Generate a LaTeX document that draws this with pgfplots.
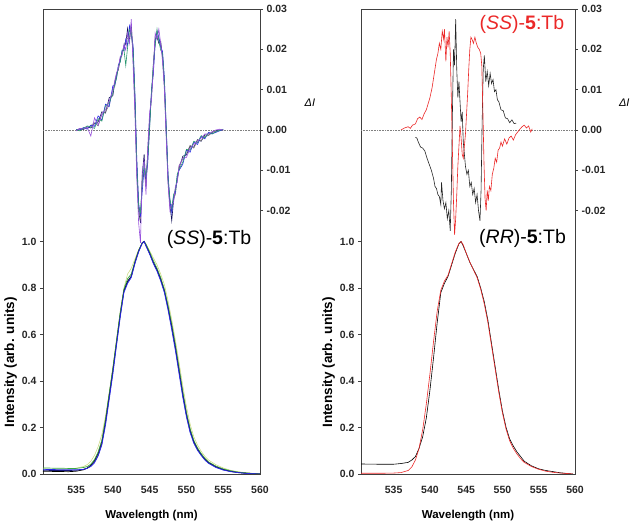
\documentclass[border=0pt]{standalone}
\usepackage{pgfplots}
\pgfplotsset{compat=1.18}
\usepackage{pgfplotstable}
\usepackage{fontspec}
\setmainfont{Liberation Sans}

\definecolor{cblue}{RGB}{40,40,230}
\definecolor{cviolet}{RGB}{150,80,220}
\definecolor{cteal}{RGB}{40,150,110}
\definecolor{cgreen}{RGB}{60,170,70}
\definecolor{cnavy}{RGB}{20,20,110}
\definecolor{cyg}{RGB}{200,215,120}
\definecolor{cred}{RGB}{235,40,40}

% CPL, left panel: x, black, blue, violet, teal, gray
\pgfplotstableread{
x a b c d e
535.0 0.0000 0.0001 -0.0002 0.0001 0.0000
535.5 0.0003 0.0000 0.0004 -0.0002 0.0002
536.0 0.0001 0.0006 0.0002 0.0004 0.0005
536.5 0.0008 0.0002 0.0007 0.0010 0.0003
537.0 0.0005 0.0012 -0.0015 0.0008 0.0011
537.5 0.0016 0.0009 0.0030 0.0004 0.0018
538.0 0.0020 0.0035 0.0012 0.0028 0.0010
538.5 0.0045 0.0025 0.0040 0.0022 0.0038
539.0 0.0042 0.0064 0.0050 0.0060 0.0045
539.5 0.0080 0.0058 0.0072 0.0066 0.0062
540.0 0.0085 0.0110 0.0098 0.0092 0.0104
540.25 0.0118 0.0110 0.0122 0.0115 0.0108
540.5 0.0138 0.0130 0.0142 0.0128 0.0140
540.75 0.0150 0.0162 0.0155 0.0158 0.0150
541.0 0.0178 0.0170 0.0182 0.0168 0.0176
541.25 0.0190 0.0198 0.0185 0.0195 0.0188
541.5 0.0205 0.0196 0.0212 0.0200 0.0210
541.75 0.0215 0.0225 0.0198 0.0160 0.0220
542.0 0.0252 0.0210 0.0240 0.0205 0.0228
542.25 0.0220 0.0258 0.0215 0.0248 0.0230
542.5 0.0262 0.0235 0.0275 0.0240 0.0250
542.75 0.0180 0.0210 0.0160 0.0200 0.0195
543.0 0.0060 0.0090 0.0040 0.0080 0.0070
543.25 -0.0100 -0.0070 -0.0120 -0.0085 -0.0090
543.5 -0.0200 -0.0180 -0.0230 -0.0190 -0.0195
543.75 -0.0230 -0.0215 -0.0280 -0.0205 -0.0220
544.0 -0.0110 -0.0150 -0.0100 -0.0130 -0.0120
544.25 -0.0060 -0.0095 -0.0075 -0.0085 -0.0105
544.5 -0.0140 -0.0120 -0.0160 -0.0115 -0.0135
544.75 -0.0050 -0.0080 -0.0040 -0.0070 -0.0060
545.0 0.0030 0.0010 0.0045 0.0005 0.0020
545.25 0.0085 0.0100 0.0075 0.0095 0.0090
545.5 0.0160 0.0140 0.0150 0.0165 0.0145
545.75 0.0225 0.0215 0.0240 0.0210 0.0230
546.0 0.0230 0.0245 0.0225 0.0250 0.0232
546.25 0.0215 0.0230 0.0250 0.0220 0.0228
546.5 0.0220 0.0205 0.0215 0.0198 0.0210
546.75 0.0180 0.0195 0.0170 0.0190 0.0185
547.0 0.0110 0.0130 0.0100 0.0120 0.0115
547.25 -0.0010 0.0010 -0.0020 0.0005 0.0000
547.5 -0.0125 -0.0110 -0.0135 -0.0118 -0.0120
547.75 -0.0185 -0.0175 -0.0200 -0.0170 -0.0190
548.0 -0.0225 -0.0205 -0.0185 -0.0195 -0.0195
548.25 -0.0175 -0.0165 -0.0180 -0.0160 -0.0170
548.5 -0.0145 -0.0155 -0.0140 -0.0150 -0.0160
548.75 -0.0125 -0.0115 -0.0130 -0.0110 -0.0120
549.0 -0.0095 -0.0100 -0.0090 -0.0098 -0.0088
549.5 -0.0065 -0.0085 -0.0070 -0.0080 -0.0072
550.0 -0.0062 -0.0050 -0.0068 -0.0048 -0.0058
550.5 -0.0040 -0.0055 -0.0045 -0.0050 -0.0038
551.0 -0.0043 -0.0030 -0.0036 -0.0028 -0.0045
551.5 -0.0024 -0.0036 -0.0028 -0.0032 -0.0026
552.0 -0.0028 -0.0016 -0.0020 -0.0014 -0.0026
552.5 -0.0012 -0.0022 -0.0010 -0.0019 -0.0015
553.0 -0.0013 -0.0006 -0.0010 -0.0008 -0.0014
553.5 -0.0006 -0.0009 -0.0004 -0.0010 -0.0005
554.0 -0.0002 -0.0006 0.0000 -0.0004 -0.0003
554.5 0.0000 -0.0002 0.0002 -0.0001 -0.0002
555.0 0.0000 0.0001 0.0000 0.0002 -0.0001
}\cplleft

% emission, left panel: x, black, blue, green, navy, light yellow-green
\pgfplotstableread{
x a b c d e
530.5 0.012 0.020 0.026 0.016 0.022
532 0.011 0.019 0.025 0.015 0.020
534 0.010 0.018 0.024 0.015 0.022
535 0.012 0.018 0.024 0.016 0.025
536 0.018 0.020 0.028 0.020 0.032
536.5 0.025 0.024 0.032 0.025 0.040
537 0.038 0.032 0.042 0.035 0.055
537.5 0.058 0.048 0.062 0.052 0.080
538 0.090 0.078 0.095 0.082 0.118
538.5 0.140 0.125 0.145 0.130 0.170
539 0.230 0.210 0.235 0.220 0.250
539.5 0.340 0.320 0.345 0.330 0.350
540 0.450 0.430 0.455 0.440 0.460
540.5 0.570 0.555 0.575 0.560 0.580
541 0.690 0.675 0.695 0.680 0.700
541.5 0.790 0.780 0.795 0.785 0.800
542 0.830 0.820 0.840 0.825 0.860
542.5 0.850 0.845 0.860 0.850 0.885
543 0.910 0.905 0.915 0.910 0.925
543.5 0.960 0.955 0.962 0.958 0.965
544 0.995 0.993 0.995 0.994 0.990
544.25 1.000 1.000 1.000 1.000 0.998
544.5 0.985 0.980 0.988 0.982 0.990
545 0.950 0.945 0.955 0.948 0.960
545.5 0.910 0.905 0.918 0.908 0.930
546 0.880 0.872 0.885 0.876 0.900
546.5 0.840 0.830 0.845 0.835 0.860
547 0.790 0.780 0.795 0.785 0.815
547.5 0.720 0.705 0.725 0.712 0.745
548 0.640 0.620 0.645 0.630 0.665
548.5 0.550 0.530 0.555 0.540 0.575
549 0.450 0.430 0.455 0.440 0.480
549.5 0.350 0.330 0.355 0.340 0.380
550 0.260 0.245 0.265 0.252 0.290
550.5 0.190 0.178 0.195 0.183 0.215
551 0.140 0.132 0.145 0.136 0.160
551.5 0.110 0.102 0.112 0.105 0.125
552 0.085 0.080 0.088 0.082 0.098
552.5 0.065 0.060 0.068 0.062 0.076
553 0.050 0.046 0.052 0.048 0.060
554 0.032 0.028 0.034 0.030 0.040
555 0.020 0.017 0.022 0.018 0.026
556 0.012 0.010 0.014 0.011 0.016
557 0.007 0.006 0.008 0.006 0.010
558 0.004 0.003 0.005 0.003 0.006
559 0.002 0.001 0.002 0.001 0.003
560 0.000 0.000 0.001 0.000 0.001
}\emleft

% emission, right panel: x, RR (black), SS (red)
\pgfplotstableread{
x rr ss
530.5 0.043 0.003
533 0.042 0.003
535 0.042 0.004
536 0.045 0.006
537 0.050 0.015
537.5 0.060 0.030
538 0.075 0.060
538.5 0.110 0.110
539 0.160 0.190
539.5 0.240 0.300
540 0.360 0.430
540.5 0.500 0.570
541 0.650 0.700
541.5 0.780 0.790
542 0.820 0.830
542.5 0.850 0.855
543 0.900 0.905
543.5 0.950 0.955
544 0.990 0.992
544.3 1.000 1.000
544.6 0.980 0.985
545 0.950 0.950
545.5 0.910 0.912
546 0.880 0.878
546.5 0.850 0.845
547 0.800 0.795
547.5 0.740 0.730
548 0.660 0.650
548.5 0.560 0.550
549 0.460 0.450
549.5 0.360 0.350
550 0.270 0.262
550.5 0.200 0.192
551 0.150 0.142
551.5 0.120 0.110
552 0.095 0.086
552.5 0.075 0.066
553 0.055 0.050
554 0.035 0.032
555 0.022 0.020
556 0.015 0.012
557 0.010 0.007
558 0.005 0.004
559 0.002 0.002
559.7 0.000 0.000
}\emright

\pgfplotstableread{
x y
536.0 0.0000
536.5 0.0005
537.0 0.0008
537.3 0.0004
537.6 0.0012
538.0 0.0015
538.3 0.0028
538.6 0.0032
538.9 0.0026
539.2 0.0040
539.5 0.0050
539.8 0.0068
540.0 0.0080
540.3 0.0105
540.6 0.0140
540.9 0.0175
541.1 0.0190
541.3 0.0215
541.5 0.0200
541.7 0.0245
541.9 0.0225
542.0 0.0250
542.2 0.0170
542.35 0.0230
542.5 0.0205
542.65 0.0245
542.8 0.0190
542.95 0.0080
543.1 -0.0050
543.25 -0.0180
543.4 -0.0260
543.55 -0.0220
543.7 -0.0160
543.85 -0.0090
544.0 -0.0040
544.15 0.0010
544.3 -0.0020
544.45 -0.0060
544.6 -0.0070
544.75 -0.0040
544.9 -0.0010
545.05 0.0040
545.2 0.0090
545.35 0.0150
545.5 0.0200
545.65 0.0230
545.8 0.0225
546.0 0.0215
546.2 0.0230
546.4 0.0215
546.6 0.0205
546.8 0.0200
547.0 0.0190
547.15 0.0160
547.3 0.0050
547.45 -0.0080
547.6 -0.0170
547.75 -0.0200
547.9 -0.0150
548.05 -0.0175
548.2 -0.0140
548.4 -0.0150
548.6 -0.0110
548.8 -0.0095
549.0 -0.0070
549.2 -0.0080
549.4 -0.0050
549.6 -0.0045
549.8 -0.0030
550.0 -0.0040
550.3 -0.0022
550.6 -0.0035
550.9 -0.0020
551.2 -0.0015
551.5 -0.0025
551.8 -0.0012
552.1 -0.0005
552.4 0.0002
552.7 0.0008
553.0 0.0012
553.3 0.0005
553.6 0.0010
553.9 -0.0005
554.1 0.0003
}\cplss

\pgfplotstableread{
x y
538.0 -0.0018
538.2 -0.0020
538.4 -0.0030
538.7 -0.0042
539.0 -0.0045
539.3 -0.0052
539.6 -0.0070
539.9 -0.0085
540.2 -0.0100
540.5 -0.0120
540.7 -0.0140
540.9 -0.0145
541.1 -0.0160
541.3 -0.0165
541.5 -0.0185
541.6 -0.0130
541.8 -0.0175
542.0 -0.0195
542.2 -0.0180
542.4 -0.0220
542.6 -0.0200
542.8 -0.0250
542.95 -0.0150
543.1 0.0040
543.25 0.0200
543.4 0.0160
543.55 0.0275
543.7 0.0150
543.85 0.0080
544.0 0.0120
544.15 0.0070
544.3 0.0020
544.45 0.0045
544.6 -0.0030
544.75 -0.0060
544.9 -0.0090
545.1 -0.0110
545.3 -0.0100
545.5 -0.0140
545.7 -0.0130
545.9 -0.0160
546.1 -0.0145
546.3 -0.0180
546.5 -0.0160
546.7 -0.0200
546.9 -0.0225
547.05 -0.0150
547.2 0.0020
547.35 0.0150
547.5 0.0185
547.7 0.0120
547.9 0.0145
548.1 0.0110
548.3 0.0140
548.5 0.0115
548.7 0.0125
548.9 0.0095
549.1 0.0100
549.3 0.0075
549.5 0.0070
549.8 0.0050
550.1 0.0048
550.4 0.0030
550.7 0.0028
551.0 0.0018
551.3 0.0025
551.6 0.0016
551.9 0.0017
}\cplrr

\pgfplotsset{
  common/.style={
    scale only axis, height=465pt,
    xmin=530.5, xmax=560,
    axis line style={black!75, line width=0.8pt},
    tick style={black!75, line width=0.7pt},
    tick align=outside, major tick length=3pt,
    /pgf/number format/assume math mode=true,
    ticklabel style={font=\bfseries\fontsize{10.5}{12}\selectfont, text=black!85},
    clip mode=individual,
  },
  inten/.style={
    common,
    ymin=0, ymax=2.0,
    ytick={0,0.2,0.4,0.6,0.8,1.0},
    yticklabel style={/pgf/number format/fixed, /pgf/number format/fixed zerofill, /pgf/number format/precision=1},
    xtick={535,540,545,550,555,560},
    xticklabel style={/pgf/number format/fixed, /pgf/number format/precision=0, /pgf/number format/1000 sep={}, yshift=-6pt},
    xtick pos=bottom, ytick pos=left,
    xtick style={draw=none},
    xlabel={Wavelength (nm)},
    xlabel style={font=\bfseries\fontsize{11.5}{13}\selectfont, yshift=-9pt},
    ylabel={Intensity (arb. units)},
    ylabel style={font=\bfseries\fontsize{13.5}{15}\selectfont, at={(ticklabel cs:0.24)}, yshift=-2pt},
  },
  dI/.style={
    common,
    ymin=-0.0853, ymax=0.03,
    hide x axis,
    axis y line*=right,
    scaled y ticks=false,
    ytick={-0.02,-0.01,0,0.01,0.02,0.03},
    yticklabel style={/pgf/number format/fixed, /pgf/number format/fixed zerofill, /pgf/number format/precision=2},
  },
}

\begin{document}
\begin{tikzpicture}
\useasboundingbox (0pt,0pt) rectangle (634pt,529pt);

% ---------------- left panel ----------------
\begin{axis}[inten, width=217pt, at={(43pt,55pt)}, anchor=south west]
\addplot[cyg, line width=0.5pt] table[x=x,y=e] {\emleft};
\addplot[black, line width=0.7pt] table[x=x,y=a] {\emleft};
\addplot[cgreen, line width=0.7pt] table[x=x,y=c] {\emleft};
\addplot[cnavy, line width=0.7pt] table[x=x,y=d] {\emleft};
\addplot[cblue, line width=0.7pt] table[x=x,y=b] {\emleft};
\node[font=\fontsize{19.5}{22}\selectfont] at (rel axis cs:0.765,0.505) {(\textit{SS})-\textbf{5}:Tb};
\end{axis}
\begin{axis}[dI, width=217pt, at={(43pt,55pt)}, anchor=south west]
\addplot[gray, densely dotted, line width=0.6pt] coordinates {(530.5,0) (560,0)};
\addplot[cnavy!80!black, line width=0.6pt] table[x=x,y=a] {\cplleft};
\addplot[gray, line width=0.6pt] table[x=x,y=e] {\cplleft};
\addplot[cblue, line width=0.6pt] table[x=x,y=b] {\cplleft};
\addplot[cteal, line width=0.6pt] table[x=x,y=d] {\cplleft};
\addplot[cviolet, line width=0.6pt] table[x=x,y=c] {\cplleft};
\node[font=\itshape\fontsize{11}{13}\selectfont] at (rel axis cs:1.23,0.798) {ΔI};
\end{axis}

% ---------------- right panel ----------------
\begin{axis}[inten, width=214pt, at={(361pt,55pt)}, anchor=south west]
\addplot[black, line width=0.6pt] table[x=x,y=rr] {\emright};
\addplot[cred, line width=0.6pt] table[x=x,y=ss] {\emright};
\node[font=\fontsize{19.5}{22}\selectfont] at (rel axis cs:0.755,0.507) {(\textit{RR})-\textbf{5}:Tb};
\node[font=\fontsize{19.5}{22}\selectfont, text=cred] at (rel axis cs:0.752,0.966) {(\textit{SS})-\textbf{5}:Tb};
\end{axis}
\begin{axis}[dI, width=214pt, at={(361pt,55pt)}, anchor=south west]
\addplot[gray, densely dotted, line width=0.6pt] coordinates {(530.5,0) (560,0)};
\addplot[black!85, line width=0.6pt] table[x=x,y=y] {\cplrr};
\addplot[cred, line width=0.6pt] table[x=x,y=y] {\cplss};
\node[font=\itshape\fontsize{11}{13}\selectfont] at (rel axis cs:1.23,0.798) {ΔI};
\end{axis}
\end{tikzpicture}
\end{document}
